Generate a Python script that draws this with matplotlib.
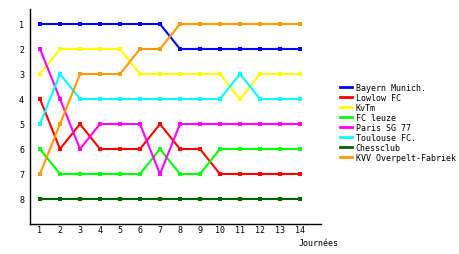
import matplotlib
matplotlib.use("Agg")
import matplotlib.pyplot as plt

rounds = list(range(1, 15))
teams = ["Bayern Munich.", "Lowlow FC", "KvTm", "FC leuze", "Paris SG 77",
         "Toulouse FC.", "Chessclub", "KVV Overpelt-Fabriek"]
colors = ["#0000ff", "#ff0000", "#ffff00", "#00ff00", "#ff00ff",
          "#00ffff", "#006400", "#ff9900"]
bayern = [1, 1, 1, 1, 1, 1, 1, 2, 2, 2, 2, 2, 2, 2]
lowlow = [4, 6, 5, 6, 6, 6, 5, 6, 6, 7, 7, 7, 7, 7]
kvtm = [3, 2, 2, 2, 2, 3, 3, 3, 3, 3, 4, 3, 3, 3]
leuze = [6, 7, 7, 7, 7, 7, 6, 7, 7, 6, 6, 6, 6, 6]
paris = [2, 4, 6, 5, 5, 5, 7, 5, 5, 5, 5, 5, 5, 5]
toulouse = [5, 3, 4, 4, 4, 4, 4, 4, 4, 4, 3, 4, 4, 4]
chess = [8, 8, 8, 8, 8, 8, 8, 8, 8, 8, 8, 8, 8, 8]
kvv = [7, 5, 3, 3, 3, 2, 2, 1, 1, 1, 1, 1, 1, 1]
series = [bayern, lowlow, kvtm, leuze, paris, toulouse, chess, kvv]
yticks = list(range(1, 9))
xlabel = "Journées"

W, H = 460, 255
fig = plt.figure(figsize=(W / 100, H / 100), dpi=100)
ax = fig.add_axes([30 / W, (H - 225) / H, (321 - 30) / W, (225 - 10) / H])
font = "DejaVu Sans Mono"
fs = 6

for name, vals, c in zip(teams, series, colors):
    ax.plot(rounds, vals, color=c, lw=1.5, marker="s", ms=2.5,
            markeredgewidth=0, label=name)

ax.set_xlim(0.5, 15.05)
ax.set_ylim(9, 0.4)
ax.set_xticks(rounds)
ax.set_yticks(yticks)
ax.tick_params(axis="both", length=0, labelsize=fs)
ax.tick_params(axis="y", pad=4.3)
ax.tick_params(axis="x", pad=0.8)
for lab in ax.get_xticklabels() + ax.get_yticklabels():
    lab.set_fontfamily(font)
for s in ["top", "right"]:
    ax.spines[s].set_visible(False)
for s in ["left", "bottom"]:
    ax.spines[s].set_linewidth(1)

fig.text(299 / W, 1 - 244 / H, xlabel, fontsize=fs, family=font,
         va="center", ha="left")

leg = fig.legend(loc="upper left", bbox_to_anchor=(340 / W, 1 - 84 / H),
                 frameon=False, prop={"family": font, "size": fs},
                 handlelength=1.4, handletextpad=0.5, labelspacing=0.12,
                 borderaxespad=0, borderpad=0)
for line in leg.get_lines():
    line.set_marker("")
    line.set_linewidth(2)

fig.savefig("out.png", dpi=100)
